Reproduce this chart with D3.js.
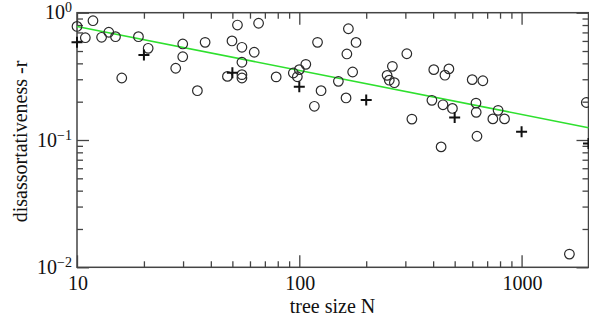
<!DOCTYPE html>
<html><head><meta charset="utf-8">
<script src="https://cdn.jsdelivr.net/npm/d3@7/dist/d3.min.js"></script>
<style>body{margin:0;background:#fff}svg{display:block}text{font-family:"Liberation Serif","Times New Roman",serif;fill:#111}</style>
</head><body><svg id="c" width="589" height="322"></svg>
<script>
const circleN = [10,11.8,10.9,12.9,13.9,14.9,15.9,18.9,20.9,29.9,29.9,27.8,34.8,37.7,52.7,65.6,49.8,55.2,62.7,55.2,47.5,55.2,55.2,78.7,94,98,100,107,120.8,125.3,116.9,166.3,180,163.7,173.8,149.9,162.3,304.6,262.3,248.3,254,267.7,321,402.7,471,452,395,443,488.5,434.5,599.6,669.6,623.7,625,630,784,742.5,838,1955,1641];
const circleR = [0.78,0.865,0.636,0.641,0.702,0.648,0.307,0.648,0.525,0.568,0.451,0.366,0.244,0.585,0.80,0.826,0.600,0.535,0.489,0.408,0.316,0.326,0.307,0.313,0.336,0.314,0.357,0.393,0.585,0.244,0.184,0.748,0.584,0.474,0.342,0.289,0.214,0.476,0.379,0.322,0.295,0.282,0.146,0.357,0.362,0.323,0.205,0.189,0.177,0.0883,0.298,0.292,0.195,0.165,0.107,0.171,0.1465,0.1465,0.197,0.0127];
const crossN = [10,20,50,100,200,500,1000,2000];
const crossR = [0.585,0.465,0.338,0.262,0.206,0.150,0.116,0.094];
const fitN = [10,2000];
const fitR = [0.78,0.125];
const xTickLabels = [10,100,1000];
const yTickExps = [0,-1,-2];

const W=589,H=322, L=77, R=588.5, T=12.7, B=267.3;
const svg=d3.select("#c");
const x=d3.scaleLog().domain([10,2000]).range([L,R]);
const y=d3.scaleLog().domain([0.01,1]).range([B,T]);

const xMinor=[];[10,100,1000].forEach(d=>{for(let k=2;k<=9;k++){const v=d*k; if(v<2000) xMinor.push(v);}});
const yMinor=[];[0.01,0.1].forEach(d=>{for(let k=2;k<=9;k++) yMinor.push(d*k);});
const xMajor=[10,100,1000], yMajor=[0.01,0.1,1];

const ax=svg.append("g");
function addAxis(gen, tr, vals, size){
  const g=ax.append("g").attr("transform",tr).call(gen.tickValues(vals).tickSize(size).tickSizeOuter(0).tickFormat(""));
  g.select(".domain").remove();
  g.selectAll("line").attr("stroke","#444").attr("stroke-width",1.3);
}
addAxis(d3.axisBottom(x),`translate(0,${B})`,xMinor,-6);
addAxis(d3.axisBottom(x),`translate(0,${B})`,xMajor,-12);
addAxis(d3.axisTop(x),`translate(0,${T})`,xMinor,-6);
addAxis(d3.axisTop(x),`translate(0,${T})`,xMajor,-12);
addAxis(d3.axisLeft(y),`translate(${L},0)`,yMinor,-6);
addAxis(d3.axisLeft(y),`translate(${L},0)`,yMajor,-12);
addAxis(d3.axisRight(y),`translate(${R},0)`,yMinor,-6);
addAxis(d3.axisRight(y),`translate(${R},0)`,yMajor,-12);

ax.append("rect").attr("x",L).attr("y",T).attr("width",R-L).attr("height",B-T)
  .attr("fill","none").attr("stroke","#444").attr("stroke-width",1.5);

const plot=svg.append("g");
plot.append("path").datum(fitN.map((n,i)=>[n,fitR[i]]))
  .attr("d",d3.line().x(d=>x(d[0])).y(d=>y(d[1])))
  .attr("fill","none").attr("stroke","#2ee02e").attr("stroke-width",1.6);

plot.selectAll("circle.p").data(circleN.map((n,i)=>[n,circleR[i]])).enter().append("circle")
  .attr("cx",d=>x(d[0])).attr("cy",d=>y(d[1])).attr("r",4.8)
  .attr("fill","none").attr("stroke","#2a2a2a").attr("stroke-width",1.2);

plot.selectAll("path.cr").data(crossN.map((n,i)=>[n,crossR[i]])).enter().append("path")
  .attr("d",d=>{const cx=x(d[0]),cy=y(d[1]),h=5.5;return `M${cx-h},${cy}H${cx+h}M${cx},${cy-h}V${cy+h}`;})
  .attr("stroke","#111").attr("stroke-width",2).attr("fill","none");

// tick labels
svg.selectAll("text.xl").data(xTickLabels).enter().append("text")
  .attr("x",d=>x(d)+1).attr("y",290).attr("text-anchor","middle").attr("font-size",20).text(d=>d);
yTickExps.forEach(e=>{
  const t=svg.append("text").attr("x",72).attr("y",y(Math.pow(10,e))+6.5).attr("text-anchor","end").attr("font-size",20);
  t.append("tspan").text("10");
  t.append("tspan").attr("font-size",14).attr("dy",-7).text(e<0?"\u2212"+(-e):String(e));
});
svg.append("text").attr("x",332.5).attr("y",312.5).attr("text-anchor","middle").attr("font-size",20).text("tree size N");
svg.append("text").attr("transform","translate(27,141.5) rotate(-90)").attr("text-anchor","middle").attr("font-size",20).text("disassortativeness -r");
</script></body></html>
